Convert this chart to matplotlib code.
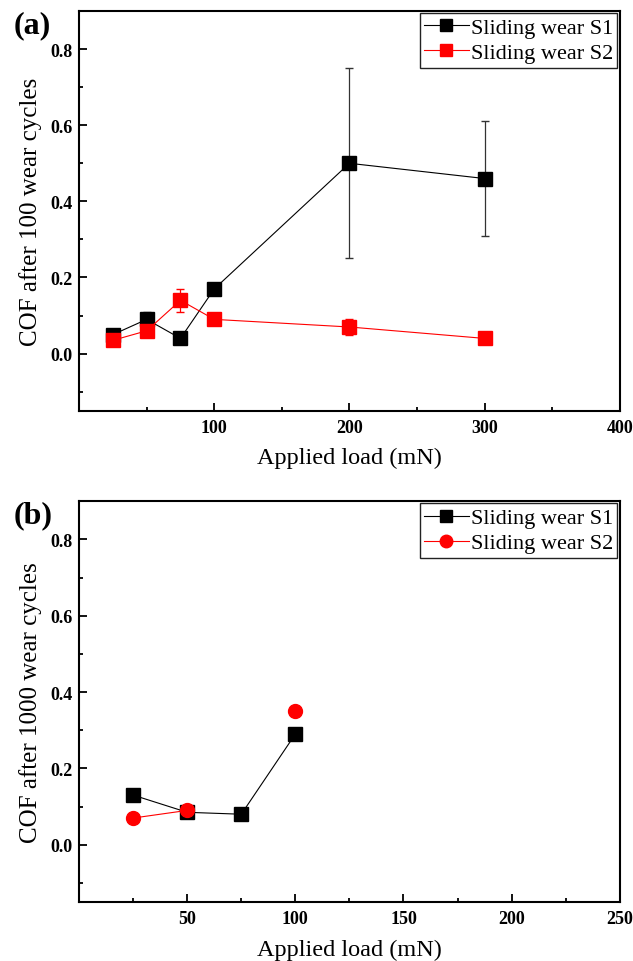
import numpy as np
from matplotlib import pyplot as plt
from matplotlib import rcParams
from matplotlib.lines import Line2D
from matplotlib.ticker import MultipleLocator, FixedLocator

# (a) COF after 100 wear cycles
load_a = [25, 50, 75, 100, 200, 300]
s1_a = [0.05, 0.09, 0.04, 0.17, 0.50, 0.46]
s1_a_err = [0.005, 0.02, 0.005, 0.005, 0.25, 0.15]
s2_a = [0.035, 0.06, 0.14, 0.09, 0.07, 0.04]
s2_a_err = [0.005, 0.005, 0.03, 0.005, 0.02, 0.005]

# (b) COF after 1000 wear cycles
load_b = [25, 50, 75, 100]
s1_b = [0.13, 0.085, 0.08, 0.29]
s2_b = [0.07, 0.09, np.nan, 0.35]

rcParams['font.family'] = ['Liberation Serif', 'DejaVu Serif']
rcParams['xtick.direction'] = 'in'
rcParams['ytick.direction'] = 'in'
rcParams['axes.linewidth'] = 1.5

fig = plt.figure(figsize=(6.33, 9.62), dpi=100)
ax_a = fig.add_axes([0.125, 0.572, 0.854, 0.4155])
ax_b = fig.add_axes([0.125, 0.0613, 0.854, 0.4167])

ax_a.errorbar(load_a, s1_a, yerr=s1_a_err, color='#000', ecolor='#333',
              lw=0.8, elinewidth=0.9, capsize=3, marker='s', ms=9.5, zorder=3)
ax_a.errorbar(load_a, s2_a, yerr=s2_a_err, color='#ff0000', ecolor='#ff0000',
              lw=0.8, elinewidth=0.9, capsize=3, marker='s', ms=9.5, zorder=3)

ax_b.plot(load_b, s1_b, color='#000', lw=0.8, marker='s', ms=9.5, zorder=3)
ax_b.plot(load_b, s2_b, color='#ff0000', lw=0.8, marker='o', ms=10, zorder=3)

handles_a = [Line2D([], [], color='#000', lw=0.8, marker='s', ms=8),
             Line2D([], [], color='#ff0000', lw=0.8, marker='s', ms=8)]
handles_b = [Line2D([], [], color='#000', lw=0.8, marker='s', ms=8),
             Line2D([], [], color='#ff0000', lw=0.8, marker='o', ms=9)]
labels = ['Sliding wear S1', 'Sliding wear S2']

panels = [
    (ax_a, (0, 400), [100, 200, 300, 400], 50, 'COF after 100 wear cycles', '(a)', handles_a),
    (ax_b, (0, 250), [50, 100, 150, 200, 250], 25, 'COF after 1000 wear cycles', '(b)', handles_b),
]
for ax, xlim, xt, minor, ylab, tag, hnd in panels:
    ax.set_xlim(*xlim)
    ax.set_ylim(-0.15, 0.9)
    ax.xaxis.set_major_locator(FixedLocator(xt))
    ax.xaxis.set_minor_locator(MultipleLocator(minor))
    ax.yaxis.set_major_locator(FixedLocator([0.0, 0.2, 0.4, 0.6, 0.8]))
    ax.yaxis.set_minor_locator(MultipleLocator(0.1))
    ax.yaxis.set_major_formatter(plt.FuncFormatter(lambda v, p: f'{v:.1f}'))
    ax.tick_params(which='major', length=6, width=1.3, labelsize=13, pad=6)
    ax.tick_params(axis='y', which='major', pad=5)
    ax.tick_params(which='minor', length=3, width=1.3)
    for lbl in ax.get_xticklabels() + ax.get_yticklabels():
        lbl.set_fontweight('bold')
    ax.set_xlabel('Applied load (mN)', fontsize=17.5, labelpad=8)
    ax.set_ylabel(ylab, fontsize=18, labelpad=6)
    leg = ax.legend(hnd, labels, loc='upper right', fontsize=16, frameon=True,
                    fancybox=False, edgecolor='#222', borderaxespad=0.1,
                    handlelength=2.0, handletextpad=0.1, borderpad=0.2,
                    labelspacing=0.2, framealpha=1)
    leg.get_frame().set_linewidth(1.0)
    pos = ax.get_position()
    fig.text(0.022, pos.y1 + 0.001, tag, fontsize=23, fontweight='bold',
             va='top', ha='left')

fig.savefig('out.png', dpi=100)
